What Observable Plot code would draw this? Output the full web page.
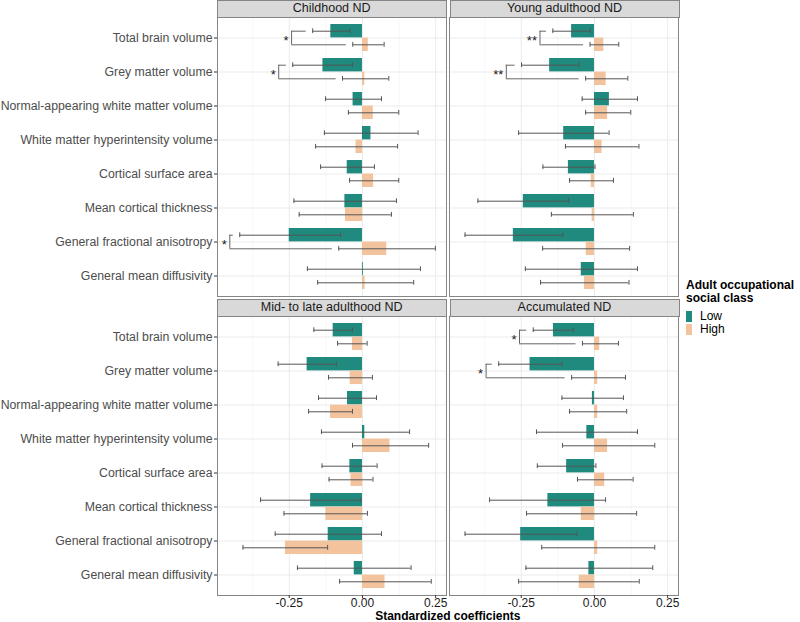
<!DOCTYPE html>
<html><head><meta charset="utf-8">
<script src="https://cdn.jsdelivr.net/npm/d3@7"></script>
<script src="https://cdn.jsdelivr.net/npm/@observablehq/plot@0.6"></script>
<style>
body{margin:0;background:#fff;font-family:"Liberation Sans",Arial,sans-serif;}
#wrap{position:relative;width:800px;height:622px;overflow:hidden;}
#wrap svg{position:absolute;left:0;top:0;}
.strip{position:absolute;box-sizing:border-box;background:#d9d9d9;border:1px solid #858585;font-size:12.5px;color:#1a1a1a;text-align:center;}
.xtitle{position:absolute;font-weight:bold;font-size:12px;line-height:13px;color:#000;white-space:nowrap;transform:translateX(-50%);}
.legend{position:absolute;left:686px;top:279px;font-size:12px;color:#000;}
.legend .t{font-weight:bold;font-size:12px;line-height:12.5px;margin-bottom:6px;}
.legend .k{display:flex;align-items:center;height:13px;line-height:13px;}
.legend .sw{width:6px;height:11px;margin-right:8px;}
g[aria-label="y-axis tick label"]{fill:#4d4d4d;font-size:12.3px;}
g[aria-label="x-axis tick label"]{fill:#1a1a1a;font-size:12px;}
</style></head>
<body><div id="wrap"></div>
<script>
const outcomes = [
  "Total brain volume",
  "Grey matter volume",
  "Normal-appearing white matter volume",
  "White matter hyperintensity volume",
  "Cortical surface area",
  "Mean cortical thickness",
  "General fractional anisotropy",
  "General mean diffusivity"
];
const panels = ["Childhood ND", "Young adulthood ND", "Mid- to late adulthood ND", "Accumulated ND"];
const groups = ["Low", "High"];
const groupColors = ["#1f8a7d", "#f2c39d"];

// [estimate, lower CI, upper CI] in outcome order
const childhoodLow  = [[-0.108,-0.170,-0.043],[-0.135,-0.238,-0.034],[-0.032,-0.126,0.065],[0.029,-0.130,0.190],[-0.052,-0.143,0.041],[-0.060,-0.234,0.116],[-0.250,-0.419,-0.075],[0.003,-0.188,0.198]];
const childhoodHigh = [[0.020,-0.033,0.074],[0.008,-0.068,0.090],[0.037,-0.048,0.124],[-0.022,-0.160,0.120],[0.038,-0.044,0.124],[-0.058,-0.216,0.099],[0.083,-0.081,0.249],[0.009,-0.153,0.175]];
const youngLow      = [[-0.078,-0.142,-0.014],[-0.153,-0.249,-0.053],[0.051,-0.042,0.147],[-0.105,-0.259,0.050],[-0.089,-0.176,0.002],[-0.243,-0.398,-0.088],[-0.277,-0.442,-0.108],[-0.045,-0.236,0.147]];
const youngHigh     = [[0.032,-0.015,0.083],[0.040,-0.030,0.114],[0.045,-0.030,0.124],[0.026,-0.099,0.152],[-0.011,-0.085,0.065],[-0.008,-0.147,0.133],[-0.028,-0.177,0.120],[-0.034,-0.184,0.118]];
const midLateLow    = [[-0.100,-0.166,-0.034],[-0.189,-0.288,-0.089],[-0.051,-0.150,0.048],[0.008,-0.140,0.161],[-0.043,-0.138,0.050],[-0.177,-0.348,-0.006],[-0.117,-0.298,0.065],[-0.028,-0.222,0.166]];
const midLateHigh   = [[-0.034,-0.085,0.016],[-0.042,-0.116,0.034],[-0.109,-0.184,-0.034],[0.094,-0.034,0.226],[-0.039,-0.114,0.036],[-0.125,-0.268,0.017],[-0.263,-0.408,-0.119],[0.077,-0.078,0.235]];
const accumLow      = [[-0.140,-0.209,-0.072],[-0.220,-0.327,-0.111],[-0.007,-0.111,0.099],[-0.026,-0.198,0.147],[-0.095,-0.195,0.005],[-0.159,-0.358,0.038],[-0.252,-0.442,-0.060],[-0.019,-0.234,0.199]];
const accumHigh     = [[0.018,-0.041,0.082],[0.011,-0.078,0.106],[0.011,-0.085,0.110],[0.045,-0.109,0.206],[0.035,-0.058,0.132],[-0.045,-0.232,0.144],[0.011,-0.180,0.206],[-0.052,-0.259,0.153]];

// significance brackets: panel, outcome, label, bracket position (coefficient units)
const sigPanels   = ["Childhood ND","Childhood ND","Childhood ND","Young adulthood ND","Young adulthood ND","Accumulated ND","Accumulated ND"];
const sigOutcomes = ["Total brain volume","Grey matter volume","General fractional anisotropy","Total brain volume","Grey matter volume","Total brain volume","Grey matter volume"];
const sigLabels   = ["*","*","*","**","**","*","*"];
const sigBrackets = [-0.242,-0.286,-0.453,-0.186,-0.301,-0.256,-0.370];

const xTicksMajor = [-0.25, 0, 0.25];
const xTicksMinor = [-0.375, -0.125, 0.125];

// ---- build table ----
const series = [[childhoodLow, childhoodHigh],[youngLow, youngHigh],[midLateLow, midLateHigh],[accumLow, accumHigh]];
const rows = [];
panels.forEach((p, pi) => {
  groups.forEach((g, gi) => {
    series[pi][gi].forEach((v, oi) => {
      rows.push({panel: p, col: pi % 2, row: Math.floor(pi / 2), outcome: outcomes[oi], group: g, est: v[0], lo: v[1], hi: v[2]});
    });
  });
});
const sig = sigPanels.map((p, i) => {
  const pi = panels.indexOf(p);
  const find = g => rows.find(r => r.panel === p && r.group === g && r.outcome === sigOutcomes[i]);
  return {panel: p, col: pi % 2, row: Math.floor(pi / 2), outcome: sigOutcomes[i], label: sigLabels[i],
          b: sigBrackets[i], lowLo: find("Low").lo, highLo: find("High").lo};
});

// ---- layout ----
const W = 800, H = 622, mL = 216.7, mR = 121, mT = 17, mB = 27, gapX = 3.3, gapY = 20;
const panelW = (W - mL - mR - gapX) / 2;
const panelH = (H - mT - mB - gapY) / 2;
const step = panelH / 8.2, bw = 0.8 * step, q = bw / 4, cap = 5;
const armGap = 0.022;

const low = rows.filter(r => r.group === "Low");
const high = rows.filter(r => r.group === "High");
const capsLow = low.flatMap(r => [{...r, v: r.lo}, {...r, v: r.hi}]);
const capsHigh = high.flatMap(r => [{...r, v: r.lo}, {...r, v: r.hi}]);
const errColor = "#555555";
const brColor = "#666666";

const chart = Plot.plot({
  width: W, height: H,
  marginLeft: mL, marginRight: mR, marginTop: mT, marginBottom: mB,
  style: {fontFamily: "Liberation Sans, Arial, sans-serif", fontSize: "12px", background: "transparent", overflow: "visible"},
  x: {domain: [-0.495, 0.287], label: null},
  y: {domain: outcomes, paddingInner: 0.2, paddingOuter: 0.2, label: null},
  fx: {domain: [0, 1], paddingInner: gapX / (panelW + gapX), paddingOuter: 0, axis: null},
  fy: {domain: [0, 1], paddingInner: gapY / (panelH + gapY), paddingOuter: 0, axis: null},
  marks: [
    Plot.gridX(xTicksMinor, {stroke: "#f3f3f3", strokeOpacity: 1, strokeWidth: 0.7}),
    Plot.gridX(xTicksMajor, {stroke: "#ebebeb", strokeOpacity: 1, strokeWidth: 1}),
    Plot.gridY(outcomes, {stroke: "#ebebeb", strokeOpacity: 1, strokeWidth: 1}),
    Plot.barX(low, {x1: d => 0, x2: "est", y: "outcome", fx: "col", fy: "row", fill: groupColors[0], insetBottom: bw / 2}),
    Plot.barX(high, {x1: d => 0, x2: "est", y: "outcome", fx: "col", fy: "row", fill: groupColors[1], insetTop: bw / 2}),
    Plot.ruleY(low, {y: "outcome", x1: "lo", x2: "hi", fx: "col", fy: "row", dy: -q, stroke: errColor, strokeWidth: 1}),
    Plot.ruleY(high, {y: "outcome", x1: "lo", x2: "hi", fx: "col", fy: "row", dy: q, stroke: errColor, strokeWidth: 1}),
    Plot.tickX(capsLow, {x: "v", y: "outcome", fx: "col", fy: "row", dy: -q,
      insetTop: (bw - cap) / 2, insetBottom: (bw - cap) / 2, stroke: errColor, strokeWidth: 1}),
    Plot.tickX(capsHigh, {x: "v", y: "outcome", fx: "col", fy: "row", dy: q,
      insetTop: (bw - cap) / 2, insetBottom: (bw - cap) / 2, stroke: errColor, strokeWidth: 1}),
    // significance brackets
    Plot.ruleY(sig, {y: "outcome", x1: "b", x2: d => d.lowLo - armGap, fx: "col", fy: "row", dy: -q, stroke: brColor, strokeWidth: 1}),
    Plot.ruleY(sig, {y: "outcome", x1: "b", x2: d => d.highLo - armGap, fx: "col", fy: "row", dy: q, stroke: brColor, strokeWidth: 1}),
    Plot.tickX(sig, {x: "b", y: "outcome", fx: "col", fy: "row", insetTop: bw / 4, insetBottom: bw / 4, stroke: brColor, strokeWidth: 1}),
    Plot.text(sig, {x: "b", y: "outcome", text: "label", fx: "col", fy: "row", textAnchor: "end", dx: -3, dy: 3, fontSize: 13, fill: "#1a1a1a"}),
    Plot.frame({stroke: "#858585", strokeWidth: 1}),
    Plot.axisY({tickSize: 3, tickPadding: 2, stroke: "#333"}),
    Plot.axisX({ticks: xTicksMajor, tickFormat: d => d.toFixed(2), tickSize: 3, tickPadding: 0, stroke: "#333", label: null})
  ]
});

const wrap = document.getElementById("wrap");
wrap.appendChild(chart);

// strips (facet titles)
panels.forEach((p, pi) => {
  const c = pi % 2, r = Math.floor(pi / 2);
  const left = mL + c * (panelW + gapX);
  const top = r === 0 ? 0 : mT + panelH + 3;
  const h = r === 0 ? mT + 0.5 : gapY - 3 + 0.5;
  const d = document.createElement("div");
  d.className = "strip";
  d.style.left = left + "px";
  d.style.top = top + "px";
  d.style.width = (panelW + 0.5) + "px";
  d.style.height = h + "px";
  d.style.lineHeight = (h - 2) + "px";
  d.textContent = p;
  wrap.appendChild(d);
});

// x-axis title
const xt = document.createElement("div");
xt.className = "xtitle";
xt.style.left = (mL + (W - mL - mR) / 2) + "px";
xt.style.top = "609.5px";
xt.textContent = "Standardized coefficients";
wrap.appendChild(xt);

// legend
const lg = document.createElement("div");
lg.className = "legend";
lg.innerHTML = '<div class="t">Adult occupational<br>social class</div>' +
  groups.map((g, i) => `<div class="k"><span class="sw" style="background:${groupColors[i]}"></span>${g}</div>`).join("");
wrap.appendChild(lg);
</script>
</body></html>
